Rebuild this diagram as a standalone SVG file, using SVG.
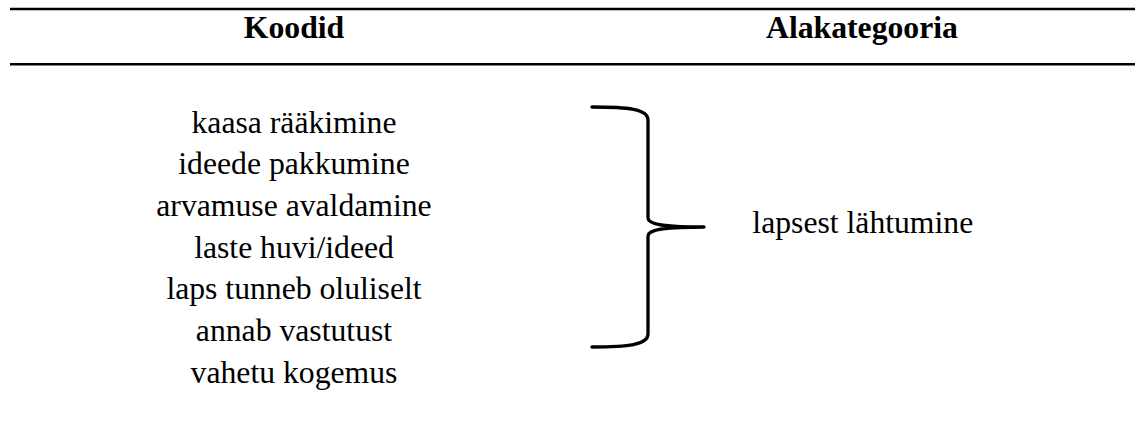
<svg xmlns="http://www.w3.org/2000/svg" width="1135" height="432" viewBox="0 0 1135 432">
<style>
.t{font-family:"Liberation Serif","Times New Roman",serif;font-size:31.7px;fill:#000;text-anchor:middle}
.h{font-weight:bold}
.rule{stroke:#000;stroke-width:2.4;fill:none}
.brace{stroke:#000;stroke-width:3.3;fill:none;stroke-linecap:round;stroke-linejoin:round}
</style>
<rect width="1135" height="432" fill="#fff"/>
<g id="rules">
<line class="rule" x1="10" y1="9" x2="1135" y2="9"/>
<line class="rule" x1="10" y1="64.3" x2="1135" y2="64.3"/>
</g>
<g id="header-koodid"><text class="t h" x="294" y="38.3">Koodid</text></g>
<g id="header-alakategooria"><text class="t h" x="862" y="38.3">Alakategooria</text></g>
<g id="codes">
<text class="t" x="294" y="132.5">kaasa rääkimine</text>
<text class="t" x="294" y="174.2">ideede pakkumine</text>
<text class="t" x="294" y="215.9">arvamuse avaldamine</text>
<text class="t" x="294" y="257.6">laste huvi/ideed</text>
<text class="t" x="294" y="299.3">laps tunneb oluliselt</text>
<text class="t" x="294" y="341">annab vastutust</text>
<text class="t" x="294" y="382.7">vahetu kogemus</text>
</g>
<g id="connectors">
<path class="brace" d="M592,107 C628,107 648,109 648,120 V218 C648,224 662,227 704,227 C662,227 648,230 648,236 V334 C648,345 628,347 592,347"/>
</g>
<g id="subcategory"><text class="t" x="862.8" y="233.3">lapsest lähtumine</text></g>
</svg>
